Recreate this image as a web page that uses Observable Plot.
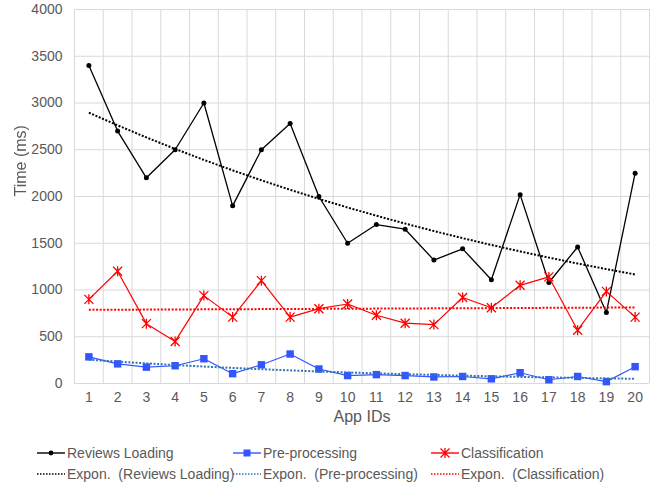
<!DOCTYPE html>
<html>
<head>
<meta charset="utf-8">
<script src="https://cdn.jsdelivr.net/npm/d3@7"></script>
<script src="https://cdn.jsdelivr.net/npm/@observablehq/plot@0.6"></script>
<style>
  html, body { margin: 0; padding: 0; background: #fff; }
  #wrap { position: relative; width: 662px; height: 486px; overflow: hidden; font-family: "Liberation Sans", Arial, sans-serif; }
  .leg { position: absolute; display: flex; align-items: center; height: 18px; font-size: 14px; color: #595959; white-space: pre; }
  .leg svg { display: block; margin-right: 2px; }
</style>
</head>
<body>
<div id="wrap"></div>
<script>
// App IDs on the x axis
const appIds = d3.range(1, 21);

// Time per stage (ms) for each app
const reviewsLoading = [3400, 2700, 2200, 2500, 3000, 1900, 2500, 2780, 2000, 1500,
                        1700, 1650, 1320, 1440, 1110, 2020, 1080, 1460, 760, 2250];
const preProcessing  = [285, 210, 175, 190, 265, 105, 200, 315, 155, 85,
                        95, 85, 70, 75, 50, 115, 40, 75, 20, 180];
const classification = [900, 1200, 640, 450, 940, 710, 1100, 710, 800, 850,
                        730, 645, 630, 920, 810, 1050, 1140, 570, 985, 710];

const yTicks = d3.range(0, 4001, 500);

const colors = {
  reviews: "#000000",
  pre: "#3355ff",
  preTrend: "#2e75b6",
  cls: "#ff0000"
};

// Exponential trend: least squares fit of ln(y) against x
function expTrend(xs, ys) {
  const ly = ys.map(Math.log);
  const mx = d3.mean(xs), my = d3.mean(ly);
  let sxy = 0, sxx = 0;
  xs.forEach((x, i) => { sxy += (x - mx) * (ly[i] - my); sxx += (x - mx) ** 2; });
  const b = sxy / sxx, a = my - b * mx;
  return xs.map(x => ({x, y: Math.exp(a + b * x)}));
}

const rows = (ys) => appIds.map((x, i) => ({x, y: ys[i]}));

// Asterisk-style marker: vertical bar crossed by an X
const star = {
  draw(context, size) {
    const r = Math.sqrt(size / Math.PI);
    const d = r * 0.9;
    context.moveTo(0, -r); context.lineTo(0, r);
    context.moveTo(-d, -d); context.lineTo(d, d);
    context.moveTo(-d, d); context.lineTo(d, -d);
  }
};

// Dotted trend lines (butt caps so the gaps stay open)
const dotted = {strokeWidth: 2, strokeDasharray: "2,1.6", strokeLinecap: "butt"};

const chart = Plot.plot({
  width: 662,
  height: 430,
  marginTop: 9,
  marginLeft: 74,
  marginRight: 13,
  marginBottom: 47,
  style: {fontFamily: "'Liberation Sans', Arial, sans-serif", fontSize: "14px", color: "#595959", background: "#fff"},
  x: {domain: [0.5, 20.5], ticks: appIds, tickSize: 0, tickPadding: 9, tickFormat: d => String(d), label: null},
  y: {domain: [0, 4000], ticks: yTicks, tickSize: 0, tickPadding: 12, tickFormat: d => String(d), label: null},
  marks: [
    Plot.ruleY(yTicks, {stroke: "#d9d9d9", strokeWidth: 1}),
    Plot.ruleX(d3.range(0.5, 21, 1), {stroke: "#d9d9d9", strokeWidth: 1}),

    Plot.line(rows(reviewsLoading), {x: "x", y: "y", stroke: colors.reviews, strokeWidth: 1.3}),
    Plot.dot(rows(reviewsLoading), {x: "x", y: "y", fill: colors.reviews, r: 2.5}),

    Plot.line(rows(preProcessing), {x: "x", y: "y", stroke: colors.pre, strokeWidth: 1.2}),
    Plot.dot(rows(preProcessing), {x: "x", y: "y", fill: colors.pre, symbol: "square", r: 4.2}),

    Plot.line(rows(classification), {x: "x", y: "y", stroke: colors.cls, strokeWidth: 1.2}),
    Plot.dot(rows(classification), {x: "x", y: "y", stroke: colors.cls, fill: "none", symbol: star, r: 5, strokeWidth: 1.3}),

    Plot.line(expTrend(appIds, reviewsLoading), {x: "x", y: "y", stroke: colors.reviews, ...dotted}),
    Plot.line(expTrend(appIds, preProcessing), {x: "x", y: "y", stroke: colors.preTrend, ...dotted}),
    Plot.line(expTrend(appIds, classification), {x: "x", y: "y", stroke: colors.cls, ...dotted}),

    Plot.text(["Time (ms)"], {frameAnchor: "left", dx: -54, rotate: -90, fontSize: 16, fill: "#595959", lineAnchor: "middle"}),
    Plot.text(["App IDs"], {frameAnchor: "bottom", dy: 33, fontSize: 16, fill: "#595959", lineAnchor: "middle"})
  ]
});

// Keep the rotated axis title in plain grey anti-aliasing
d3.select(chart).selectAll("text")
  .filter(function() { return this.textContent === "Time (ms)"; })
  .style("filter", "grayscale(1)");

const wrap = document.getElementById("wrap");
wrap.appendChild(chart);

// Legend below the chart
const legendItems = [
  {label: "Reviews Loading", color: colors.reviews, dash: null, marker: "dot", left: 37, top: 444},
  {label: "Pre-processing", color: colors.pre, dash: null, marker: "square", left: 233, top: 444},
  {label: "Classification", color: colors.cls, dash: null, marker: "star", left: 431, top: 444},
  {label: "Expon.  (Reviews Loading)", color: colors.reviews, dash: "1.5,1.5", marker: null, left: 37, top: 465},
  {label: "Expon.  (Pre-processing)", color: colors.preTrend, dash: "1.5,1.5", marker: null, left: 233, top: 465},
  {label: "Expon.  (Classification)", color: colors.cls, dash: "1.5,1.5", marker: null, left: 431, top: 465}
];

legendItems.forEach(item => {
  const div = document.createElement("div");
  div.className = "leg";
  div.style.left = item.left + "px";
  div.style.top = item.top + "px";
  const s = d3.create("svg").attr("width", 28).attr("height", 12);
  s.append("line").attr("x1", 0).attr("x2", 28).attr("y1", 6).attr("y2", 6)
    .attr("stroke", item.color)
    .attr("stroke-width", item.dash ? 1.5 : 1.4)
    .attr("stroke-dasharray", item.dash);
  if (item.marker === "dot") {
    s.append("circle").attr("cx", 14).attr("cy", 6).attr("r", 2.4).attr("fill", item.color);
  } else if (item.marker === "square") {
    s.append("rect").attr("x", 10.5).attr("y", 2.5).attr("width", 7).attr("height", 7).attr("fill", item.color);
  } else if (item.marker === "star") {
    s.append("path").attr("d", d3.symbol(star, 5 * 5 * Math.PI)()).attr("transform", "translate(14,6)")
      .attr("stroke", item.color).attr("fill", "none").attr("stroke-width", 1.3);
  }
  div.appendChild(s.node());
  const span = document.createElement("span");
  span.textContent = item.label;
  div.appendChild(span);
  wrap.appendChild(div);
});
</script>
</body>
</html>
